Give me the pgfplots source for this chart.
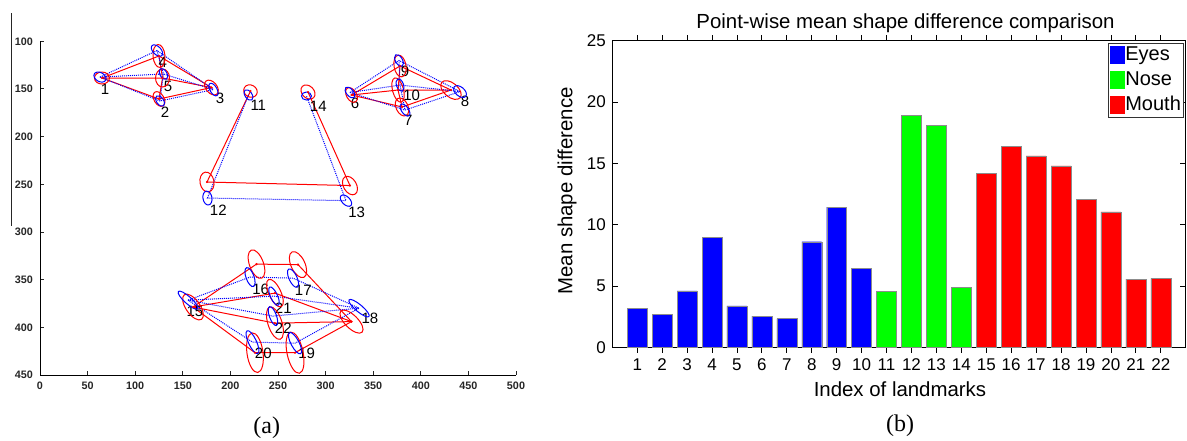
\documentclass[border=0pt]{standalone}
\usepackage{pgfplots}
\pgfplotsset{compat=1.18}
\usepackage{pgfplotstable}
\usepackage{fontspec}
\setmainfont{Liberation Sans}
\newfontfamily\timesfont{Liberation Serif}

\pgfdeclareplotmark{ell}{%
  \pgfmathsetmacro\ellAngB{\ellAng+90}%
  \pgfpathellipse{\pgfpointorigin}{\pgfpointpolar{\ellAng}{\ellA pt}}{\pgfpointpolar{\ellAngB}{\ellB pt}}%
  \pgfusepathqstroke}

\pgfplotsset{
  ellplot/.style={scatter, only marks, mark=ell,
    scatter/@pre marker code/.code={\pgfscope},
    scatter/@post marker code/.code={\endpgfscope},
    visualization depends on={\thisrow{a}\as\ellA},
    visualization depends on={\thisrow{b}\as\ellB},
    visualization depends on={\thisrow{ang}\as\ellAng}},
  redline/.style={red, line width=1pt, mark=none},
  blueline/.style={blue, line width=1pt, densely dotted, mark=none},
  mylegend/.style={legend image code/.code={\fill[##1,draw=none] (0pt,-8pt) rectangle (14.7pt,10pt);}}
}

% red mean shape landmarks: x y, ellipse semi-axes (pt) and angle
\pgfplotstableread{
id x y a b ang
1 65.1 138.5 7.5 6 0
2 125.0 160.5 8 5 -60
3 180.1 148.5 8.5 5.5 -50
4 125.0 115.4 11.5 6 95
5 128.7 138.5 9 7 90
6 327.2 156.3 8 5 -60
7 380.3 168.9 9.5 6 -65
8 431.7 151.1 12 7 -40
9 378.2 125.9 11 6 100
10 376.1 151.1 12.5 5.5 105
11 221.1 152.2 7 6 -30
12 175.4 247.6 10 7 100
13 325.6 251.3 10 6.5 -60
14 281.5 153.2 8 6 -45
15 160.7 378.7 15 7 -55
16 227.4 333.7 15 7 -70
17 271.0 334.2 14 7 -65
18 327.2 394.0 15 6.5 -45
19 267.9 426.6 21 8 -78
20 225.8 426.6 20 8 -82
21 246.8 364.1 15 6 -65
22 246.8 395.6 17 7 -72
}\redpts

% blue mean shape landmarks
\pgfplotstableread{
id x y a b ang
1 63.0 137.5 6.5 4.5 -30
2 126.1 162.6 6 3.5 -55
3 182.2 150.6 7 3.5 -60
4 122.9 109.7 7 4 -45
5 129.7 134.3 6 3.5 -60
6 325.6 153.7 6.5 3.5 -50
7 383.4 172.1 7 3.5 -55
8 441.2 152.7 7.5 4.5 -40
9 377.1 120.1 6.5 3.5 -60
10 378.2 145.9 6.5 3.5 -70
11 219.0 156.3 6 3.5 -55
12 175.9 264.4 7 4.5 100
13 321.4 267.1 7 4 -45
14 279.9 157.4 5 4 0
15 155.5 371.5 13 3.5 -42
16 220.6 347.3 10 4 -70
17 265.8 348.4 10 4 -65
18 335.1 379.9 13 3.5 -40
19 267.9 416.6 12 4 -62
20 223.2 415.5 12.5 4 -65
21 245.8 367.3 10 3.5 -65
22 244.7 388.2 10 3.5 -70
}\bluepts

\begin{document}
\begin{tikzpicture}
\useasboundingbox (0pt,0pt) rectangle (1187pt,440pt);
\draw[black!85, line width=1pt] (11.7pt,426.7pt) -- (11.7pt,214pt);
% frame of panel (a), same style as the visible line above
\draw[black!85, line width=1pt] (40pt,398.7pt) -- (40pt,65pt);
\draw[black!85, line width=1pt] (40pt,65pt) -- (516pt,65pt);
\draw[black!85, line width=1pt]
  (87.6pt,65pt) -- (87.6pt,69pt) (135.2pt,65pt) -- (135.2pt,69pt) (182.8pt,65pt) -- (182.8pt,69pt)
  (230.4pt,65pt) -- (230.4pt,69pt) (278pt,65pt) -- (278pt,69pt) (325.6pt,65pt) -- (325.6pt,69pt)
  (373.2pt,65pt) -- (373.2pt,69pt) (420.8pt,65pt) -- (420.8pt,69pt) (468.4pt,65pt) -- (468.4pt,69pt)
  (516pt,65pt) -- (516pt,69pt)
  (40pt,398.7pt) -- (44pt,398.7pt) (40pt,351pt) -- (44pt,351pt) (40pt,303.4pt) -- (44pt,303.4pt)
  (40pt,255.7pt) -- (44pt,255.7pt) (40pt,208pt) -- (44pt,208pt) (40pt,160.4pt) -- (44pt,160.4pt)
  (40pt,112.7pt) -- (44pt,112.7pt);

% ---------------- panel (a)
\begin{axis}[at={(40pt,65pt)}, anchor=south west, scale only axis,
  width=476pt, height=333.7pt,
  xmin=0, xmax=500, ymin=100, ymax=450, y dir=reverse,
  axis x line=bottom, axis y line=left,
  axis line style={draw=none},
  xtick={0,50,...,500}, ytick={100,150,...,450},
  major tick length=0pt,
  tick label style={font=\bfseries\fontsize{10.8}{12}\selectfont, text=black!85, /pgf/number format/assume math mode=true},
  xticklabel style={anchor=base, inner sep=0pt, yshift=-14.5pt},
  yticklabel style={anchor=east, inner sep=0pt, xshift=-7pt},
  clip=false]
% axis frame again as plotted series in black
\addplot[black, line width=1pt, mark=none] coordinates {(0,100) (0,450) (500,450)};
% red shape
\addplot[redline] coordinates {(65.1,138.5) (125.0,115.4) (180.1,148.5) (125.0,160.5) (65.1,138.5)};
\addplot[redline] coordinates {(65.1,138.5) (128.7,138.5) (180.1,148.5)};
\addplot[redline] coordinates {(125.0,115.4) (128.7,138.5) (125.0,160.5)};
\addplot[redline] coordinates {(327.2,156.3) (378.2,125.9) (431.7,151.1) (380.3,168.9) (327.2,156.3)};
\addplot[redline] coordinates {(327.2,156.3) (376.1,151.1) (431.7,151.1)};
\addplot[redline] coordinates {(378.2,125.9) (376.1,151.1) (380.3,168.9)};
\addplot[redline] coordinates {(221.1,152.2) (175.4,247.6) (325.6,251.3) (281.5,153.2)};
\addplot[redline] coordinates {(160.7,378.7) (227.4,333.7) (271.0,334.2) (327.2,394.0) (267.9,426.6) (225.8,426.6) (160.7,378.7)};
\addplot[redline] coordinates {(160.7,378.7) (246.8,364.1) (327.2,394.0)};
\addplot[redline] coordinates {(160.7,378.7) (246.8,395.6) (327.2,394.0)};
% blue shape
\addplot[blueline] coordinates {(63.0,137.5) (122.9,109.7) (182.2,150.6) (126.1,162.6) (63.0,137.5)};
\addplot[blueline] coordinates {(63.0,137.5) (129.7,134.3) (182.2,150.6)};
\addplot[blueline] coordinates {(122.9,109.7) (129.7,134.3) (126.1,162.6)};
\addplot[blueline] coordinates {(325.6,153.7) (377.1,120.1) (441.2,152.7) (383.4,172.1) (325.6,153.7)};
\addplot[blueline] coordinates {(325.6,153.7) (378.2,145.9) (441.2,152.7)};
\addplot[blueline] coordinates {(377.1,120.1) (378.2,145.9) (383.4,172.1)};
\addplot[blueline] coordinates {(219.0,156.3) (175.9,264.4) (321.4,267.1) (279.9,157.4)};
\addplot[blueline] coordinates {(155.5,371.5) (220.6,347.3) (265.8,348.4) (335.1,379.9) (267.9,416.6) (223.2,415.5) (155.5,371.5)};
\addplot[blueline] coordinates {(155.5,371.5) (245.8,367.3) (335.1,379.9)};
\addplot[blueline] coordinates {(155.5,371.5) (244.7,388.2) (335.1,379.9)};
% ellipses
\addplot[ellplot, red, line width=1pt] table[x=x, y=y] {\redpts};
\addplot[ellplot, blue, line width=1pt] table[x=x, y=y] {\bluepts};
\addplot[only marks, mark=*, mark size=0.9pt, red] table[x=x, y=y] {\redpts};
% landmark numbers
\begin{scope}[every node/.style={font=\fontsize{15}{18}\selectfont, inner sep=0pt}]
\node at (axis cs:68.3,150.1) {1};
\node at (axis cs:131.3,173.9) {2};
\node at (axis cs:189.1,159.8) {3};
\node at (axis cs:128.9,122.5) {4};
\node at (axis cs:134.5,147.6) {5};
\node at (axis cs:330.9,165.1) {6};
\node at (axis cs:386.9,182.6) {7};
\node at (axis cs:446.4,163.4) {8};
\node at (axis cs:383.4,131.9) {9};
\node at (axis cs:390.4,156.3) {10};
\node at (axis cs:229.3,166.8) {11};
\node at (axis cs:187.3,277.0) {12};
\node at (axis cs:332.7,279.9) {13};
\node at (axis cs:292.3,167.9) {14};
\node at (axis cs:162.8,383.7) {15};
\node at (axis cs:231.8,360.2) {16};
\node at (axis cs:276.6,361.0) {17};
\node at (axis cs:346.6,390.7) {18};
\node at (axis cs:280.1,427.4) {19};
\node at (axis cs:234.6,427.4) {20};
\node at (axis cs:255.6,380.2) {21};
\node at (axis cs:255.6,401.2) {22};
\end{scope}
\end{axis}

% ---------------- panel (b)
\begin{axis}[at={(612.3pt,92.7pt)}, anchor=south west, scale only axis,
  width=573.4pt, height=306.6pt,
  xmin=0, xmax=23, ymin=0, ymax=25,
  xtick={1,...,22}, ytick={0,5,...,25},
  tick align=inside, major tick length=5.5pt,
  axis line style={black, line width=0.9pt},
  tick style={black, line width=0.8pt},
  tick label style={font=\fontsize{17}{20}\selectfont, /pgf/number format/assume math mode=true},
  xticklabel style={anchor=base, inner sep=0pt, yshift=-17.6pt},
  yticklabel style={anchor=east, inner sep=0pt, xshift=-6.3pt},
  ybar, bar width=0.8, bar shift=0pt,
  title={Point-wise mean shape difference comparison},
  title style={at={(axis description cs:0.5113,1.0209)}, anchor=base, inner sep=0pt, font=\fontsize{20.4}{24}\selectfont},
  xlabel={Index of landmarks},
  xlabel style={at={(axis description cs:0.5017,-0.1620)}, anchor=base, inner sep=0pt, font=\fontsize{20.4}{24}\selectfont},
  ylabel={Mean shape difference},
  ylabel style={at={(axis description cs:-0.0698,0.5098)}, anchor=base, inner sep=0pt, font=\fontsize{20.4}{24}\selectfont},
  legend style={at={(1,1)}, anchor=north east, xshift=-2.4pt, yshift=-2.6pt,
    draw=black!80, line width=0.8pt, font=\fontsize{20}{24}\selectfont,
    inner sep=1.5pt, row sep=4pt, nodes={inner sep=0.5pt, text height=15pt, text depth=5pt}},
  legend cell align=left]
\addplot[fill=blue, draw=black!45, line width=0.4pt, mylegend] coordinates {
(1,3.2) (2,2.7) (3,4.6) (4,8.95) (5,3.37) (6,2.55) (7,2.34) (8,8.61) (9,11.42) (10,6.44)};
\addlegendentry{Eyes}
\addplot[fill=green, draw=black!45, line width=0.4pt, mylegend] coordinates {
(11,4.54) (12,18.89) (13,18.08) (14,4.86)};
\addlegendentry{Nose}
\addplot[fill=red, draw=black!45, line width=0.4pt, mylegend] coordinates {
(15,14.16) (16,16.36) (17,15.6) (18,14.79) (19,12.04) (20,11.04) (21,5.55) (22,5.63)};
\addlegendentry{Mouth}
\end{axis}

\node[anchor=base, font=\timesfont\fontsize{24}{28}\selectfont] at (266.7pt,7pt) {(a)};
\node[anchor=base, font=\timesfont\fontsize{24}{28}\selectfont] at (900pt,9pt) {(b)};
\end{tikzpicture}
\end{document}
